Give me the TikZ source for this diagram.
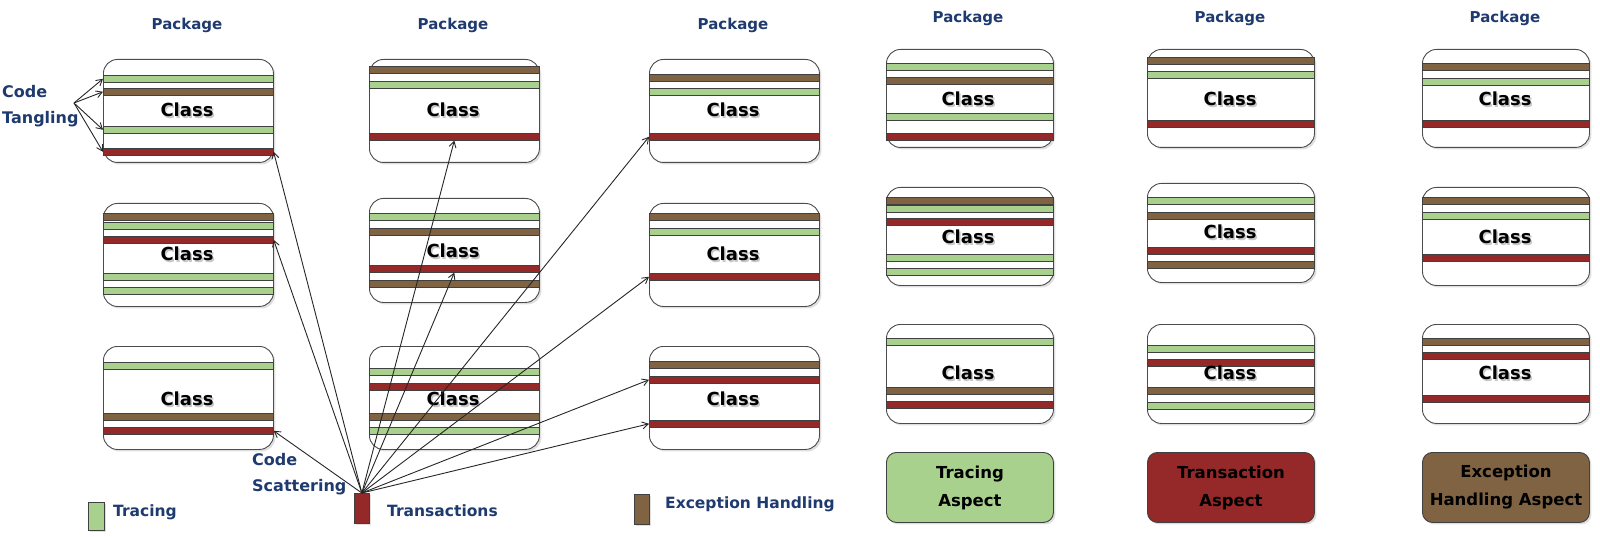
\documentclass[tikz,border=0pt]{standalone}
\usepackage{fontspec}
\setmainfont{DejaVu Sans}
\usetikzlibrary{arrows.meta,shadows}
\definecolor{tgreen}{HTML}{A9D18E}
\definecolor{tbrown}{HTML}{7F6342}
\definecolor{tred}{HTML}{952828}
\definecolor{navy}{HTML}{1F3A6E}
\tikzset{
  pkgbox/.style={draw=black!70, line width=0.9pt, fill=white, rounded corners=14pt, anchor=north west,
    drop shadow={opacity=0.25, shadow xshift=2pt, shadow yshift=-2pt}},
  stripe/.style={draw=black!75, line width=0.6pt, inner sep=0pt, minimum height=7pt, anchor=north west},
  pkglbl/.style={text=navy, font=\fontsize{15}{18}\selectfont\bfseries},
  clslbl/.style={text=black, font=\fontsize{18}{20}\selectfont\bfseries},
  clsshadow/.style={text=black!35, font=\fontsize{18}{20}\selectfont\bfseries, opacity=0.6},
  note/.style={text=navy, font=\fontsize{16}{26.5}\selectfont\bfseries, align=left, inner sep=1pt},
  legtxt/.style={text=navy, font=\fontsize{15.5}{18}\selectfont\bfseries, anchor=west, inner sep=1pt},
  legbox/.style={draw=black!75, line width=0.7pt, inner sep=0pt, anchor=north west,
    drop shadow={opacity=0.25, shadow xshift=1.5pt, shadow yshift=-1.5pt}},
  aspect/.style={draw=black!75, line width=0.9pt, rounded corners=10pt, anchor=north west,
    align=center, font=\fontsize{16.5}{28}\selectfont\bfseries, inner sep=0pt,
    drop shadow={opacity=0.25, shadow xshift=2pt, shadow yshift=-2pt}},
  arr/.style={-{Straight Barb[length=6pt,width=7pt]}, line width=0.9pt, black!85}
}
% \stp{name}{x}{ytop}{width}{colour}
\newcommand{\stp}[5]{\node[stripe, fill=#5, minimum width=#4pt] (#1) at (#2,#3) {};}
% \cls{name}{x}{y}
\newcommand{\cls}[3]{\node[clsshadow] (#1s) at (#2+1.5,#3+1.5) {Class};\node[clslbl] (#1) at (#2,#3) {Class};}
\begin{document}
\begin{tikzpicture}[x=1pt,y=-1pt]
\useasboundingbox (0,0) rectangle (1600,537);

% ---------- package labels ----------
\node[pkglbl] (p1) at (187,25) {Package};
\node[pkglbl] (p2) at (453,25) {Package};
\node[pkglbl] (p3) at (733,25) {Package};
\node[pkglbl] (p4) at (968,18) {Package};
\node[pkglbl] (p5) at (1230,18) {Package};
\node[pkglbl] (p6) at (1505,18) {Package};

% ---------- column 1 ----------
\node[pkgbox, minimum width=170pt, minimum height=103pt] (b11) at (103,59) {};
\stp{s11a}{103}{75}{170}{tgreen}
\stp{s11b}{103}{88}{170}{tbrown}
\stp{s11c}{103}{126}{170}{tgreen}
\stp{s11d}{103}{148}{170}{tred}
\cls{c11}{187}{110}

\node[pkgbox, minimum width=170pt, minimum height=103pt] (b12) at (103,203) {};
\stp{s12a}{103}{213}{170}{tbrown}
\stp{s12b}{103}{222}{170}{tgreen}
\stp{s12c}{103}{236}{170}{tred}
\stp{s12d}{103}{273}{170}{tgreen}
\stp{s12e}{103}{287}{170}{tgreen}
\cls{c12}{187}{254}

\node[pkgbox, minimum width=170pt, minimum height=103pt] (b13) at (103,346) {};
\stp{s13a}{103}{362}{170}{tgreen}
\stp{s13b}{103}{413}{170}{tbrown}
\stp{s13c}{103}{427}{170}{tred}
\cls{c13}{187}{399}

% ---------- column 2 ----------
\node[pkgbox, minimum width=170pt, minimum height=103pt] (b21) at (369,59) {};
\stp{s21a}{369}{66}{170}{tbrown}
\stp{s21b}{369}{81}{170}{tgreen}
\stp{s21c}{369}{133}{170}{tred}
\cls{c21}{453}{110}

\node[pkgbox, minimum width=170pt, minimum height=104pt] (b22) at (369,198) {};
\stp{s22a}{369}{213}{170}{tgreen}
\stp{s22b}{369}{228}{170}{tbrown}
\stp{s22c}{369}{265}{170}{tred}
\stp{s22d}{369}{280}{170}{tbrown}
\cls{c22}{453}{251}

\node[pkgbox, minimum width=170pt, minimum height=103pt] (b23) at (369,346) {};
\stp{s23a}{369}{368}{170}{tgreen}
\stp{s23b}{369}{383}{170}{tred}
\stp{s23c}{369}{413}{170}{tbrown}
\stp{s23d}{369}{427}{170}{tgreen}
\cls{c23}{453}{399}

% ---------- column 3 ----------
\node[pkgbox, minimum width=170pt, minimum height=103pt] (b31) at (649,59) {};
\stp{s31a}{649}{74}{170}{tbrown}
\stp{s31b}{649}{88}{170}{tgreen}
\stp{s31c}{649}{133}{170}{tred}
\cls{c31}{733}{110}

\node[pkgbox, minimum width=170pt, minimum height=103pt] (b32) at (649,203) {};
\stp{s32a}{649}{213}{170}{tbrown}
\stp{s32b}{649}{228}{170}{tgreen}
\stp{s32c}{649}{273}{170}{tred}
\cls{c32}{733}{254}

\node[pkgbox, minimum width=170pt, minimum height=103pt] (b33) at (649,346) {};
\stp{s33a}{649}{361}{170}{tbrown}
\stp{s33b}{649}{376}{170}{tred}
\stp{s33c}{649}{420}{170}{tred}
\cls{c33}{733}{399}

% ---------- column 4 ----------
\node[pkgbox, minimum width=167pt, minimum height=98pt] (b41) at (886,49) {};
\stp{s41a}{886}{63}{167}{tgreen}
\stp{s41b}{886}{77}{167}{tbrown}
\stp{s41c}{886}{113}{167}{tgreen}
\stp{s41d}{886}{133}{167}{tred}
\cls{c41}{968}{99}

\node[pkgbox, minimum width=167pt, minimum height=98pt] (b42) at (886,187) {};
\stp{s42a}{886}{197}{167}{tbrown}
\stp{s42b}{886}{205}{167}{tgreen}
\stp{s42c}{886}{218}{167}{tred}
\stp{s42d}{886}{254}{167}{tgreen}
\stp{s42e}{886}{268}{167}{tgreen}
\cls{c42}{968}{237}

\node[pkgbox, minimum width=167pt, minimum height=99pt] (b43) at (886,324) {};
\stp{s43a}{886}{338}{167}{tgreen}
\stp{s43b}{886}{387}{167}{tbrown}
\stp{s43c}{886}{401}{167}{tred}
\cls{c43}{968}{373}

\node[aspect, fill=tgreen, minimum width=167pt, minimum height=70pt] (a4) at (886,452) {Tracing\\Aspect};

% ---------- column 5 ----------
\node[pkgbox, minimum width=167pt, minimum height=98pt] (b51) at (1147,49) {};
\stp{s51a}{1147}{57}{167}{tbrown}
\stp{s51b}{1147}{71}{167}{tgreen}
\stp{s51c}{1147}{120}{167}{tred}
\cls{c51}{1230}{99}

\node[pkgbox, minimum width=167pt, minimum height=99pt] (b52) at (1147,183) {};
\stp{s52a}{1147}{197}{167}{tgreen}
\stp{s52b}{1147}{212}{167}{tbrown}
\stp{s52c}{1147}{247}{167}{tred}
\stp{s52d}{1147}{261}{167}{tbrown}
\cls{c52}{1230}{232}

\node[pkgbox, minimum width=167pt, minimum height=99pt] (b53) at (1147,324) {};
\stp{s53a}{1147}{345}{167}{tgreen}
\stp{s53b}{1147}{359}{167}{tred}
\stp{s53c}{1147}{387}{167}{tbrown}
\stp{s53d}{1147}{402}{167}{tgreen}
\cls{c53}{1230}{373}

\node[aspect, fill=tred, minimum width=167pt, minimum height=70pt] (a5) at (1147,452) {Transaction\\Aspect};

% ---------- column 6 ----------
\node[pkgbox, minimum width=167pt, minimum height=98pt] (b61) at (1422,49) {};
\stp{s61a}{1422}{63}{167}{tbrown}
\stp{s61b}{1422}{78}{167}{tgreen}
\stp{s61c}{1422}{120}{167}{tred}
\cls{c61}{1505}{99}

\node[pkgbox, minimum width=167pt, minimum height=98pt] (b62) at (1422,187) {};
\stp{s62a}{1422}{197}{167}{tbrown}
\stp{s62b}{1422}{212}{167}{tgreen}
\stp{s62c}{1422}{254}{167}{tred}
\cls{c62}{1505}{237}

\node[pkgbox, minimum width=167pt, minimum height=99pt] (b63) at (1422,324) {};
\stp{s63a}{1422}{338}{167}{tbrown}
\stp{s63b}{1422}{352}{167}{tred}
\stp{s63c}{1422}{395}{167}{tred}
\cls{c63}{1505}{373}

\node[aspect, fill=tbrown, minimum width=167pt, minimum height=70pt] (a6) at (1422,452) {Exception\\Handling Aspect};

% ---------- annotations ----------
\node[note, anchor=west] (tang) at (1,106) {Code\\Tangling};
\coordinate (tangpt) at (74,103);
\foreach \s in {s11a,s11b,s11c,s11d} \draw[arr] (tangpt) -- (\s.west);

\node[note, anchor=west] (scat) at (251,474) {Code\\Scattering};

% ---------- legend ----------
\node[legbox, fill=tgreen, minimum width=16pt, minimum height=28pt] (lg) at (88,502) {};
\node[legtxt] (lgt) at (112,512) {Tracing};
\node[legbox, fill=tred, minimum width=15pt, minimum height=30pt] (tr) at (354,493) {};
\node[legtxt] (trt) at (386,511) {Transactions};
\node[legbox, fill=tbrown, minimum width=15pt, minimum height=30pt] (lb) at (634,494) {};
\node[legtxt] (lbt) at (664,504) {Exception Handling};

% ---------- scattering arrows ----------
\draw[arr] (tr.north) -- (s11d.east);
\draw[arr] (tr.north) -- (s12c.east);
\draw[arr] (tr.north) -- (s13c.east);
\draw[arr] (tr.north) -- (s21c.south);
\draw[arr] (tr.north) -- (s22c.south);
\draw[arr] (tr.north) -- (s31c.west);
\draw[arr] (tr.north) -- (s32c.west);
\draw[arr] (tr.north) -- (s33b.west);
\draw[arr] (tr.north) -- (s33c.west);
\end{tikzpicture}
\end{document}
